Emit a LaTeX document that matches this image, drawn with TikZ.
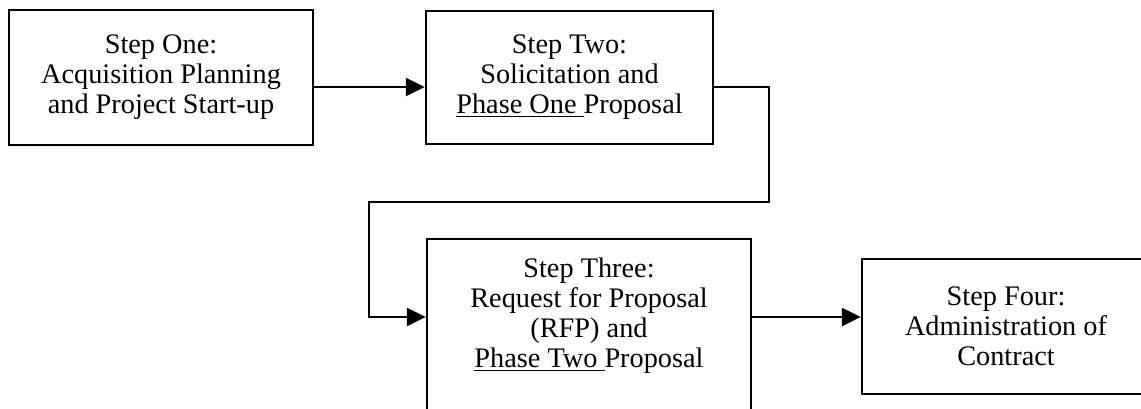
\documentclass[tikz,border=0pt]{standalone}
\usepackage{fontspec}
\setmainfont{Liberation Serif}
\usetikzlibrary{arrows.meta}
\newcommand\myul[1]{\setbox0\hbox{#1}\leavevmode\rlap{\rule[-3.5pt]{\wd0}{1.6pt}}\box0}
\tikzset{
  stepbox/.style={draw=black, line width=2.4pt, rectangle, inner sep=0pt, align=center,
    font=\fontsize{28.3}{30}\selectfont},
  conn/.style={line width=2.4pt, -{Triangle[length=19pt,width=18pt]}},
}
\begin{document}
\begin{tikzpicture}[x=1pt,y=-1pt]
\useasboundingbox (0,0) rectangle (1141,408);
\node[stepbox, minimum width=304pt, minimum height=135pt] (s1) at (161,77.5)
  {Step One:\\Acquisition Planning\\and Project Start-up};
\node[stepbox, minimum width=287pt, minimum height=133pt] (s2) at (569.5,77.5)
  {Step Two:\\Solicitation and\\\myul{Phase One\ }Proposal};
\node[stepbox, minimum width=324pt, minimum height=181pt,
  label={[align=center, font=\fontsize{28.3}{30}\selectfont, yshift=13.5pt]center:Step Three:\\Request for Proposal\\(RFP) and\\\myul{Phase Two\ }Proposal}] (s3) at (589,329.5) {};
\node[stepbox, minimum width=288pt, minimum height=135pt] (s4) at (1006,326.5)
  {Step Four:\\Administration of\\Contract};
\coordinate (r1) at (0,87);
\coordinate (r3) at (0,317);
\coordinate (k1) at (769,87);
\coordinate (k2) at (769,202);
\coordinate (k3) at (369,202);
\coordinate (k4) at (369,317);
\draw[conn] (s1.east |- r1) -- (s2.west |- r1);
\draw[conn] (s2.east |- r1) -- (k1) -- (k2) -- (k3) -- (k4) -- (s3.west |- r3);
\draw[conn] (s3.east |- r3) -- (s4.west |- r3);
\end{tikzpicture}
\end{document}
